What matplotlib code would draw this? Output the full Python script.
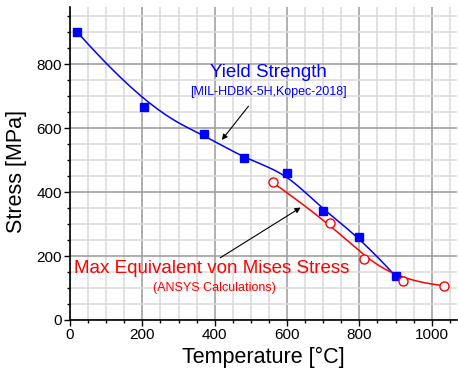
import numpy as np
import matplotlib
matplotlib.use("Agg")
import matplotlib.pyplot as plt
from matplotlib.ticker import MultipleLocator

plt.rcParams['font.family'] = ['Liberation Sans', 'DejaVu Sans']

# Yield strength (MIL-HDBK-5H, Kopec-2018)
yield_temp = [20, 205, 370, 480, 600, 700, 800, 900]
yield_stress = [900, 665, 580, 505, 460, 340, 260, 137]

# Max equivalent von Mises stress (ANSYS)
ansys_temp = [560, 720, 812, 920, 1035]
ansys_stress = [430, 302, 190, 122, 107]

x_ticks = [0, 200, 400, 600, 800, 1000]
y_ticks = [0, 200, 400, 600, 800]


def bspline(xs, ys, n=300, k=3):
    """Clamped uniform B-spline using the data points as control points."""
    P = np.column_stack([xs, ys]).astype(float)
    m = len(P)
    k = min(k, m - 1)
    inner = np.arange(1, m - k)
    knots = np.concatenate([np.zeros(k + 1), inner, np.full(k + 1, m - k)]).astype(float)
    t = np.linspace(0, m - k, n)
    t[-1] -= 1e-9

    def basis(i, p, t):
        if p == 0:
            return ((knots[i] <= t) & (t < knots[i + 1])).astype(float)
        out = np.zeros_like(t)
        d1 = knots[i + p] - knots[i]
        d2 = knots[i + p + 1] - knots[i + 1]
        if d1 > 0:
            out += (t - knots[i]) / d1 * basis(i, p - 1, t)
        if d2 > 0:
            out += (knots[i + p + 1] - t) / d2 * basis(i + 1, p - 1, t)
        return out

    B = np.array([basis(i, k, t) for i in range(m)])
    C = B.T @ P
    return C[:, 0], C[:, 1]


fig = plt.figure(figsize=(4.58, 3.72), dpi=100)
ax = fig.add_axes([0.1528, 0.1398, 0.8460, 0.8420])

bx, by = bspline(yield_temp, yield_stress)
rx, ry = bspline(ansys_temp, ansys_stress)

ax.plot(bx, by, color='#0000ff', lw=1.1, zorder=3)
ax.plot(yield_temp, yield_stress, 's', color='#0000ff', ms=6, zorder=4)
ax.plot(rx, ry, color='#ff0000', lw=1.1, zorder=3)
ax.plot(ansys_temp, ansys_stress, 'o', mfc='white', mec='#ff0000', mew=1.0, ms=6.5, zorder=4)

ax.set_xlim(0, 1071)
ax.set_ylim(0, 979)
ax.set_xticks(x_ticks)
ax.set_yticks(y_ticks)
ax.xaxis.set_minor_locator(MultipleLocator(50))
ax.yaxis.set_minor_locator(MultipleLocator(50))

ax.grid(which='minor', color='#dadada', lw=1.1, zorder=0)
ax.grid(which='major', color='#9a9a9a', lw=1.1, zorder=0)
ax.set_axisbelow(True)

for s in ['top', 'right']:
    ax.spines[s].set_visible(False)
for s in ['left', 'bottom']:
    ax.spines[s].set_linewidth(1.2)

ax.tick_params(which='major', direction='out', length=4, width=1.0, labelsize=11, pad=2)
ax.tick_params(which='minor', direction='out', length=2.5, width=1.0)

ax.set_xlabel('Temperature [°C]', fontsize=15.5, va='center')
ax.set_ylabel('Stress [MPa]', fontsize=15.5, va='center')
ax.xaxis.set_label_coords(0.499, -0.118)
ax.yaxis.set_label_coords(-0.139, 0.473)

ax.text(549, 772, 'Yield Strength', color='#0000ff', fontsize=13.5, ha='center', va='center')
ax.text(549, 712, '[MIL-HDBK-5H,Kopec-2018]', color='#0000ff', fontsize=9, ha='center', va='center')
ax.annotate('', xy=(415, 556), xytext=(498, 675),
            arrowprops=dict(arrowstyle='-|>', color='black', lw=0.8, mutation_scale=8))

ax.text(391, 162, 'Max Equivalent von Mises Stress', color='#ff0000', fontsize=13.5, ha='center', va='center')
ax.text(398, 100, '(ANSYS Calculations)', color='#ff0000', fontsize=9, ha='center', va='center')
ax.annotate('', xy=(644, 356), xytext=(409, 190),
            arrowprops=dict(arrowstyle='-|>', color='black', lw=0.8, mutation_scale=8))

fig.savefig('out.png', dpi=100)
